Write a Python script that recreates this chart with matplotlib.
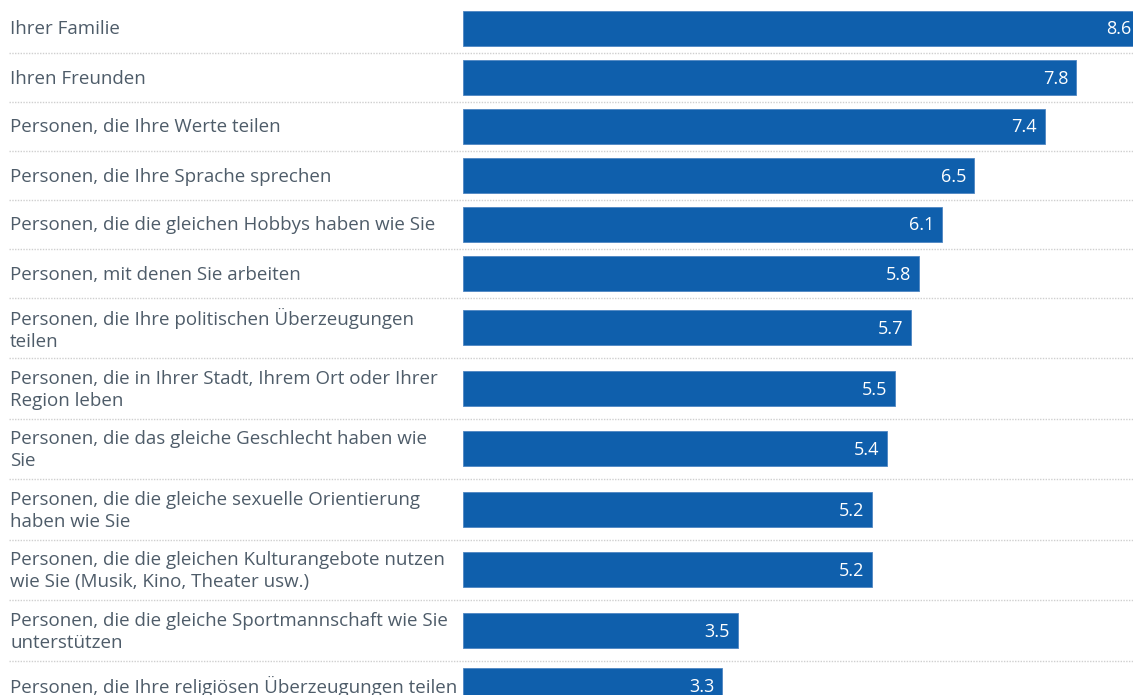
import matplotlib
matplotlib.use("Agg")
import matplotlib.pyplot as plt
import matplotlib.transforms as mtransforms

categories = [
    "Ihrer Familie",
    "Ihren Freunden",
    "Personen, die Ihre Werte teilen",
    "Personen, die Ihre Sprache sprechen",
    "Personen, die die gleichen Hobbys haben wie Sie",
    "Personen, mit denen Sie arbeiten",
    "Personen, die Ihre politischen Überzeugungen\nteilen",
    "Personen, die in Ihrer Stadt, Ihrem Ort oder Ihrer\nRegion leben",
    "Personen, die das gleiche Geschlecht haben wie\nSie",
    "Personen, die die gleiche sexuelle Orientierung\nhaben wie Sie",
    "Personen, die die gleichen Kulturangebote nutzen\nwie Sie (Musik, Kino, Theater usw.)",
    "Personen, die die gleiche Sportmannschaft wie Sie\nunterstützen",
    "Personen, die Ihre religiösen Überzeugungen teilen",
]
values = [8.6, 7.8, 7.4, 6.5, 6.1, 5.8, 5.7, 5.5, 5.4, 5.2, 5.2, 3.5, 3.3]
value_labels = ["8.6", "7.8", "7.4", "6.5", "6.1", "5.8", "5.7", "5.5", "5.4", "5.2", "5.2", "3.5", "3.3"]

W, H = 1133, 695
BAR_COLOR = "#0f5fac"
TEXT_COLOR = "#4e5c69"
FONT = ["Open Sans", "DejaVu Sans"]

fig = plt.figure(figsize=(W / 100, H / 100), dpi=100)
x0 = 463
px_per_unit = 78.6
ax = fig.add_axes([x0 / W, 0, (W - x0) / W, 1])
ax.set_xlim(0, (W - x0) / px_per_unit)
ax.set_ylim(H, 0)
ax.axis("off")

# row layout (pixel units on y)
tops, centers, heights = [], [], []
y = 3.5
for lab in categories:
    h = 49 if lab.count("\n") == 0 else 60.5
    tops.append(y)
    centers.append(y + h / 2)
    heights.append(h)
    y += h

ax.barh(centers, values, height=35, color=BAR_COLOR, edgecolor="#4f86c2", linewidth=0.6)

blend = mtransforms.blended_transform_factory(fig.transFigure, ax.transData)
for lab, c in zip(categories, centers):
    ax.text(10 / W, c + 1.5, lab, transform=blend, ha="left", va="center",
            fontsize=13.5, color=TEXT_COLOR, family=FONT, linespacing=1.3,
            clip_on=False)

for t, h in zip(tops[:-1], heights[:-1]):
    ax.plot([9 / W, 1.0], [t + h, t + h], transform=blend, color="#cfcfcf",
            linestyle=(0, (1, 1)), linewidth=1.0, clip_on=False)

for v, c, s in zip(values, centers, value_labels):
    ax.annotate(s, xy=(v, c), xytext=(-8, -1.5), textcoords="offset pixels",
                ha="right", va="center", color="white", fontsize=13,
                family=FONT, annotation_clip=False)

fig.savefig("out.png", dpi=100)
